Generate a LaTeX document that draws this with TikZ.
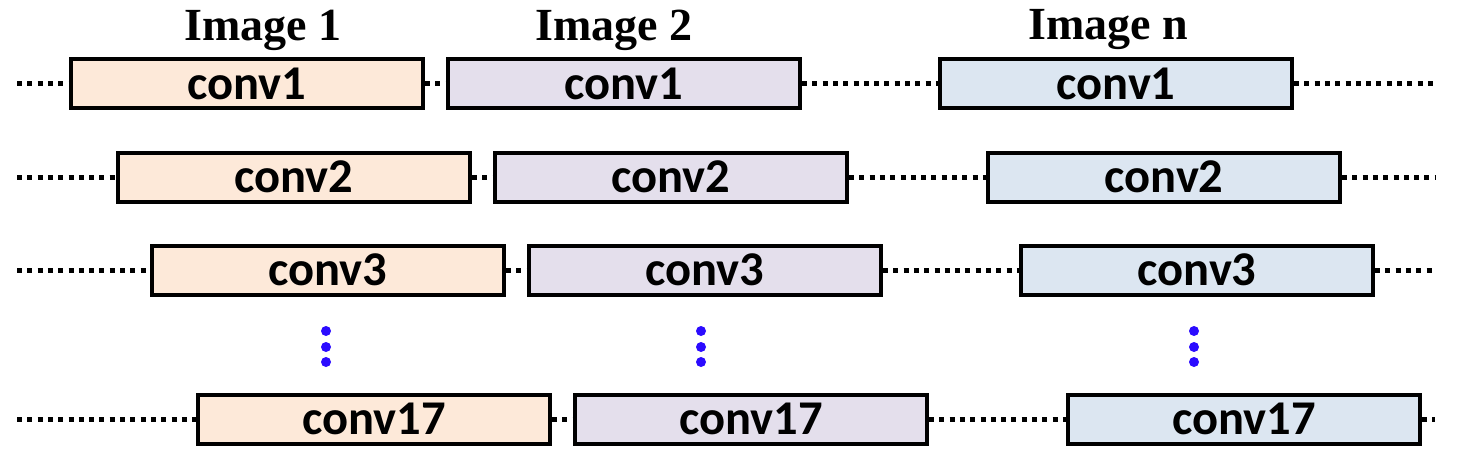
\documentclass[tikz,border=0pt]{standalone}
\usepackage{fontspec}
\setmainfont{Liberation Serif}
\newfontfamily\boxfont{Carlito}
\definecolor{peach}{HTML}{FDE9D9}
\definecolor{lav}{HTML}{E4DFEC}
\definecolor{lblue}{HTML}{DCE6F1}
\definecolor{dotblue}{HTML}{2B0BFF}
\begin{document}
\begin{tikzpicture}[x=1pt,y=-1pt,
  layer/.style={draw=black, line width=4pt, minimum width=352pt, minimum height=49pt,
    inner sep=0pt, font=\boxfont\bfseries\fontsize{48.5}{50}\selectfont, anchor=west},
  imgA/.style={layer, fill=peach},
  imgB/.style={layer, fill=lav},
  imgN/.style={layer, fill=lblue},
  link/.style={line width=5pt, dash pattern=on 5pt off 5.3pt},
  title/.style={font=\bfseries\fontsize{46}{48}\selectfont, inner sep=0pt},
  vdot/.style={fill=dotblue}]
\useasboundingbox (0,0) rectangle (1464,469);
% titles
\node[title] (t1) at (263,30) {Image 1};
\node[title] (t2) at (614,30) {Image 2};
\node[title] (tn) at (1108,30) {Image n};
% rows
\foreach \r/\y/\a/\b/\c/\lab in {1/83.5/69/446/938/conv1, 2/177/116/493/986/conv2, 3/270/150/527/1019/conv3, 5/419/196/573/1066/conv17}{
  \node[imgA] (a\r) at (\a,\y) {\lab};
  \node[imgB] (b\r) at (\b,\y) {\lab};
  \node[imgN] (n\r) at (\c,\y) {\lab};
  \coordinate (l\r) at (17,\y);
  \coordinate (e\r) at (1435,\y);
  \draw[link] (l\r) -- (a\r.west);
  \draw[link] (a\r.east) -- (b\r.west);
  \draw[link] (b\r.east) -- (n\r.west);
  \draw[link] (n\r.east) -- (e\r);
}
% vertical ellipsis
\foreach \x in {326,701,1194}{
  \foreach \yy in {331,347,362}{
    \fill[vdot] (\x,\yy) circle (5pt);
  }
}
\end{tikzpicture}
\end{document}
